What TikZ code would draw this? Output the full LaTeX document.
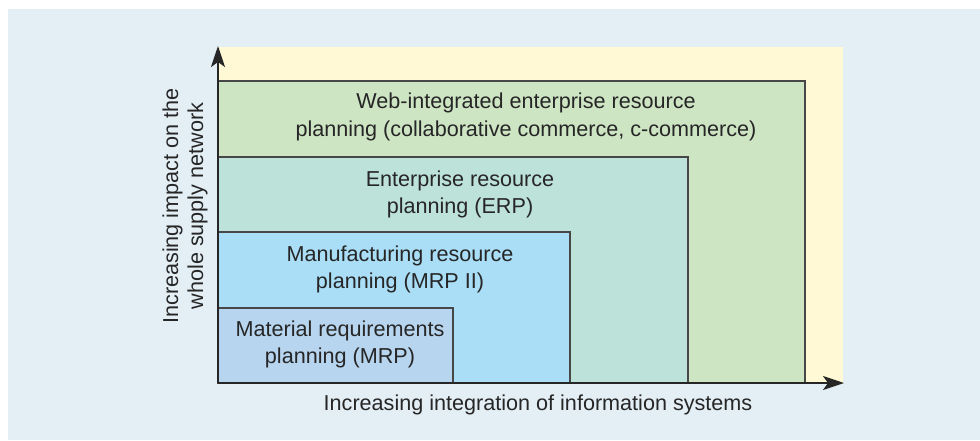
\documentclass[tikz,border=0pt]{standalone}
\usepackage{fontspec}
\setmainfont{Liberation Sans}
\usetikzlibrary{arrows.meta}
\definecolor{bgpanel}{HTML}{E3EEF5}
\definecolor{yellowzone}{HTML}{FFFAD5}
\definecolor{webgreen}{HTML}{CEE5C4}
\definecolor{erpteal}{HTML}{BDE2DA}
\definecolor{mrptwo}{HTML}{A9DEF6}
\definecolor{mrpone}{HTML}{B7D5EE}
\definecolor{inkgray}{HTML}{262626}
\begin{document}
\begin{tikzpicture}[x=1pt,y=-1pt,
  levelbox/.style={draw=inkgray!85, line width=1.3pt},
  lbl/.style={text=inkgray, align=center, font=\fontsize{21.6}{27}\selectfont, inner sep=0pt},
  axisarrow/.style={draw=inkgray, line width=1.5pt, -{Stealth[length=21pt,width=14pt,inset=5pt]}}]
\useasboundingbox (0,0) rectangle (980,440);
\fill[white] (0,0) rectangle (980,440);
\fill[bgpanel] (8,9) rectangle (980,440);
\fill[yellowzone] (218,47) rectangle (843,383);
\draw[levelbox, fill=webgreen] (218,81) rectangle (805,383);
\draw[levelbox, fill=erpteal] (218,157) rectangle (688,383);
\draw[levelbox, fill=mrptwo] (218,232) rectangle (570,383);
\draw[levelbox, fill=mrpone] (218,308) rectangle (453,383);
\coordinate (origin) at (218,383);
\coordinate (ytip) at (218,46);
\coordinate (xtip) at (844,383);
\draw[axisarrow] (origin) -- (ytip);
\draw[axisarrow] (origin) -- (xtip);
\node[lbl, font=\fontsize{21.6}{28}\selectfont] (weblbl) at (526,117) {Web-integrated enterprise resource\\planning (collaborative commerce, c-commerce)};
\node[lbl] (erplbl) at (460,194) {Enterprise resource\\planning (ERP)};
\node[lbl] (mrp2lbl) at (400,269) {Manufacturing resource\\planning (MRP II)};
\node[lbl] (mrplbl) at (340,344) {Material requirements\\planning (MRP)};
\node[lbl] (xlbl) at (538,405) {Increasing integration of information systems};
\node[lbl, rotate=90, font=\fontsize{21.6}{25}\selectfont] (ylbl) at (185,206) {Increasing impact on the\\whole supply network};
\end{tikzpicture}
\end{document}
